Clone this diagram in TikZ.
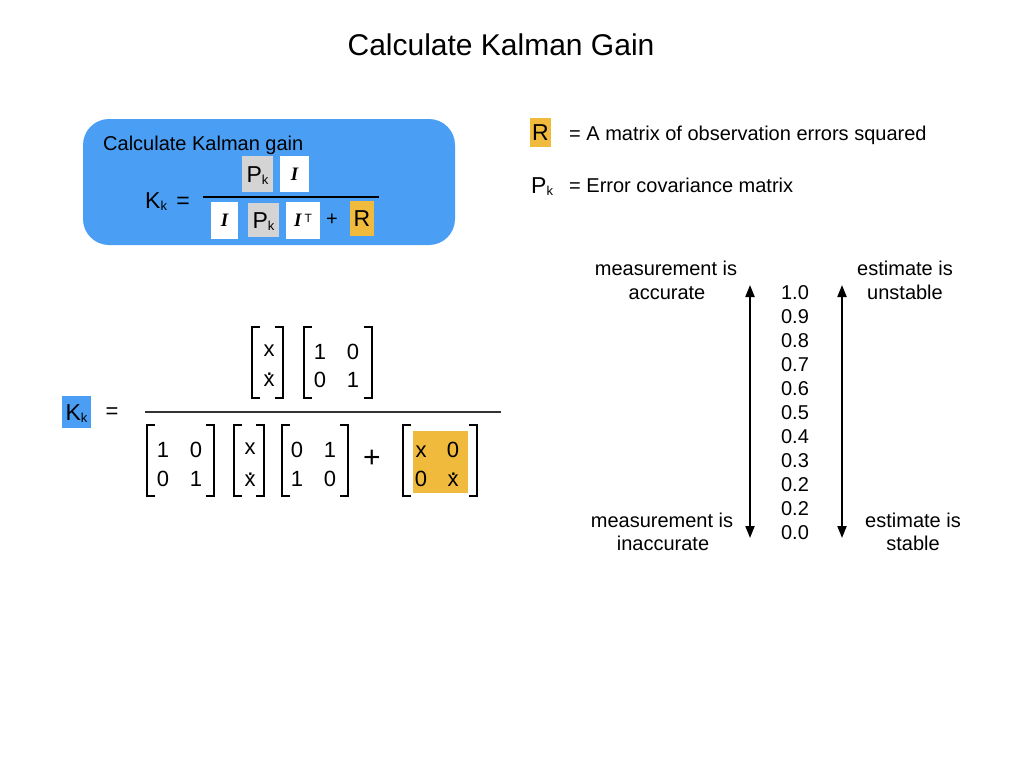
\documentclass[tikz,border=0pt]{standalone}
\usepackage{fontspec}
\setmainfont{Liberation Sans}
\newfontfamily\serifI{Liberation Serif}
\usetikzlibrary{arrows.meta}
\newcommand\fs[1]{\fontsize{#1}{#1}\selectfont}
\newcommand\subk{\raisebox{-2pt}{\fs{13}k}}
\newcommand\Ibold{{\serifI\bfseries\itshape I}}
\newcommand\xdot{\makebox[0pt][l]{\smash{\hspace{0.12em}\raisebox{0.5em}{\fs{24}.}}}x}
\definecolor{kblue}{RGB}{74,159,245}
\definecolor{korange}{RGB}{240,186,60}
\definecolor{kgray}{RGB}{212,212,212}
\newcommand\mbr[4]{%
  \draw[brk] (#1+8,#3) -- (#1,#3) -- (#1,#4) -- (#1+8,#4);
  \draw[brk] (#2-8,#3) -- (#2,#3) -- (#2,#4) -- (#2-8,#4);}
\begin{document}
\begin{tikzpicture}[x=1pt,y=-1pt,
  lab/.style={inner sep=0pt, font=\fs{20}, text height=14.4pt, text depth=0pt},
  ent/.style={inner sep=0pt, font=\fs{22}, anchor=base},
  cbox/.style={inner sep=0pt, text height=16.5pt, text depth=0pt, font=\fs{23}},
  gbox/.style={cbox, fill=kgray},
  obox/.style={cbox, fill=korange},
  wbox/.style={inner sep=0pt, fill=white, font=\fs{19}, text height=12.5pt, text depth=0pt},
  brk/.style={line width=1.8pt, line join=miter},
  fracline/.style={line width=1.6pt},
  scalearrow/.style={{Triangle[length=12pt,width=9pt]}-{Triangle[length=12pt,width=9pt]}, line width=2pt}
]
\useasboundingbox[fill=white] (0,0) rectangle (1024,768);

% title
\node[inner sep=0pt, font=\fs{30}, text height=21.5pt, text depth=0pt] (title) at (501,45) {Calculate Kalman Gain};

% box 1
\node[fill=kblue, rounded corners=26pt, minimum width=372pt, minimum height=126pt, inner sep=0pt] (bluebox) at (269,182) {};
\node[lab, anchor=west] (boxtitle) at (103,143) {Calculate Kalman gain};
\node[cbox, anchor=west] (kk1) at (145,200) {K\subk};
\node[cbox] (eq1) at (183,200) {=};
\node[gbox, minimum width=31pt, minimum height=36pt] (np) at (257.5,174) {P\subk};
\node[wbox, minimum width=29pt, minimum height=36pt] (ni) at (294.5,174) {\Ibold};
\coordinate (f1a) at (203,197);
\coordinate (f1b) at (379,197);
\draw[fracline] (f1a) -- (f1b);
\node[wbox, minimum width=27pt, minimum height=37pt] (di) at (224.5,220.5) {\Ibold};
\node[gbox, minimum width=31pt, minimum height=34pt] (dp) at (263.5,220) {P\subk};
\node[wbox, minimum width=34pt, minimum height=37pt] (dit) at (303,220.5) {\Ibold\,\raisebox{4pt}{\fs{12}\normalfont T}};
\node[inner sep=0pt, font=\fs{20}] (dplus) at (332,220) {+};
\node[obox, minimum width=24pt, minimum height=35pt] (dr) at (362,218.5) {R};

% legend
\node[obox, minimum width=21pt, minimum height=29pt] (legr) at (540.5,132.5) {R};
\node[lab, anchor=west] (legrt) at (569,133) {= A matrix of observation errors squared};
\node[cbox, anchor=west] (legp) at (531,185) {P\subk};
\node[lab, anchor=west] (legpt) at (569,185) {= Error covariance matrix};

% second equation
\node[cbox, fill=kblue, minimum width=29pt, minimum height=32pt] (kk2) at (76.5,412) {K\subk};
\node[inner sep=0pt, font=\fs{22}] (eq2) at (112,413) {=};
% numerator
\mbr{252}{283}{327}{398}
\node[ent] (n1a) at (269,356) {x};
\node[ent] (n1b) at (269,386) {\xdot};
\mbr{304}{372}{327}{398}
\node[ent] (n2a) at (320,359) {1};
\node[ent] (n2b) at (353,359) {0};
\node[ent] (n2c) at (320,387) {0};
\node[ent] (n2d) at (353,387) {1};
\coordinate (f2a) at (145,412);
\coordinate (f2b) at (501,412);
\draw[line width=1.3pt, black!80] (f2a) -- (f2b);
% denominator
\mbr{147}{214}{425}{496}
\node[ent] (d1a) at (163,457) {1};
\node[ent] (d1b) at (196,457) {0};
\node[ent] (d1c) at (163,486) {0};
\node[ent] (d1d) at (196,486) {1};
\mbr{234}{264}{425}{496}
\node[ent] (d2a) at (250,454) {x};
\node[ent] (d2b) at (250,486) {\xdot};
\mbr{282}{348}{425}{496}
\node[ent] (d3a) at (297,457) {0};
\node[ent] (d3b) at (330,457) {1};
\node[ent] (d3c) at (297,486) {1};
\node[ent] (d3d) at (330,486) {0};
\node[inner sep=0pt, font=\fs{30}] (dplus2) at (372,459) {+};
\node[fill=korange, minimum width=55pt, minimum height=62pt, inner sep=0pt] (ofill) at (440.5,462) {};
\mbr{403}{477}{425}{496}
\node[ent] (d4a) at (421,457) {x};
\node[ent] (d4b) at (453,457) {0};
\node[ent] (d4c) at (421,486) {0};
\node[ent] (d4d) at (453,486) {\xdot};

% scale
\foreach \v [count=\i from 0] in {1.0,0.9,0.8,0.7,0.6,0.5,0.4,0.3,0.2,0.2,0.0}{
  \node[lab] (s\i) at (795,292+24*\i) {\v};
}
\coordinate (a1t) at (750,285);
\coordinate (a1b) at (750,538);
\coordinate (a2t) at (842,285);
\coordinate (a2b) at (842,538);
\draw[scalearrow] (a1b) -- (a1t);
\draw[scalearrow] (a2b) -- (a2t);
\node[lab] (m1) at (666,268) {measurement is};
\node[lab] (m2) at (667,292) {accurate};
\node[lab] (e1) at (905,268) {estimate is};
\node[lab] (e2) at (905,292) {unstable};
\node[lab] (m3) at (662,520) {measurement is};
\node[lab] (m4) at (663,543) {inaccurate};
\node[lab] (e3) at (913,520) {estimate is};
\node[lab] (e4) at (913,543) {stable};
\end{tikzpicture}
\end{document}
